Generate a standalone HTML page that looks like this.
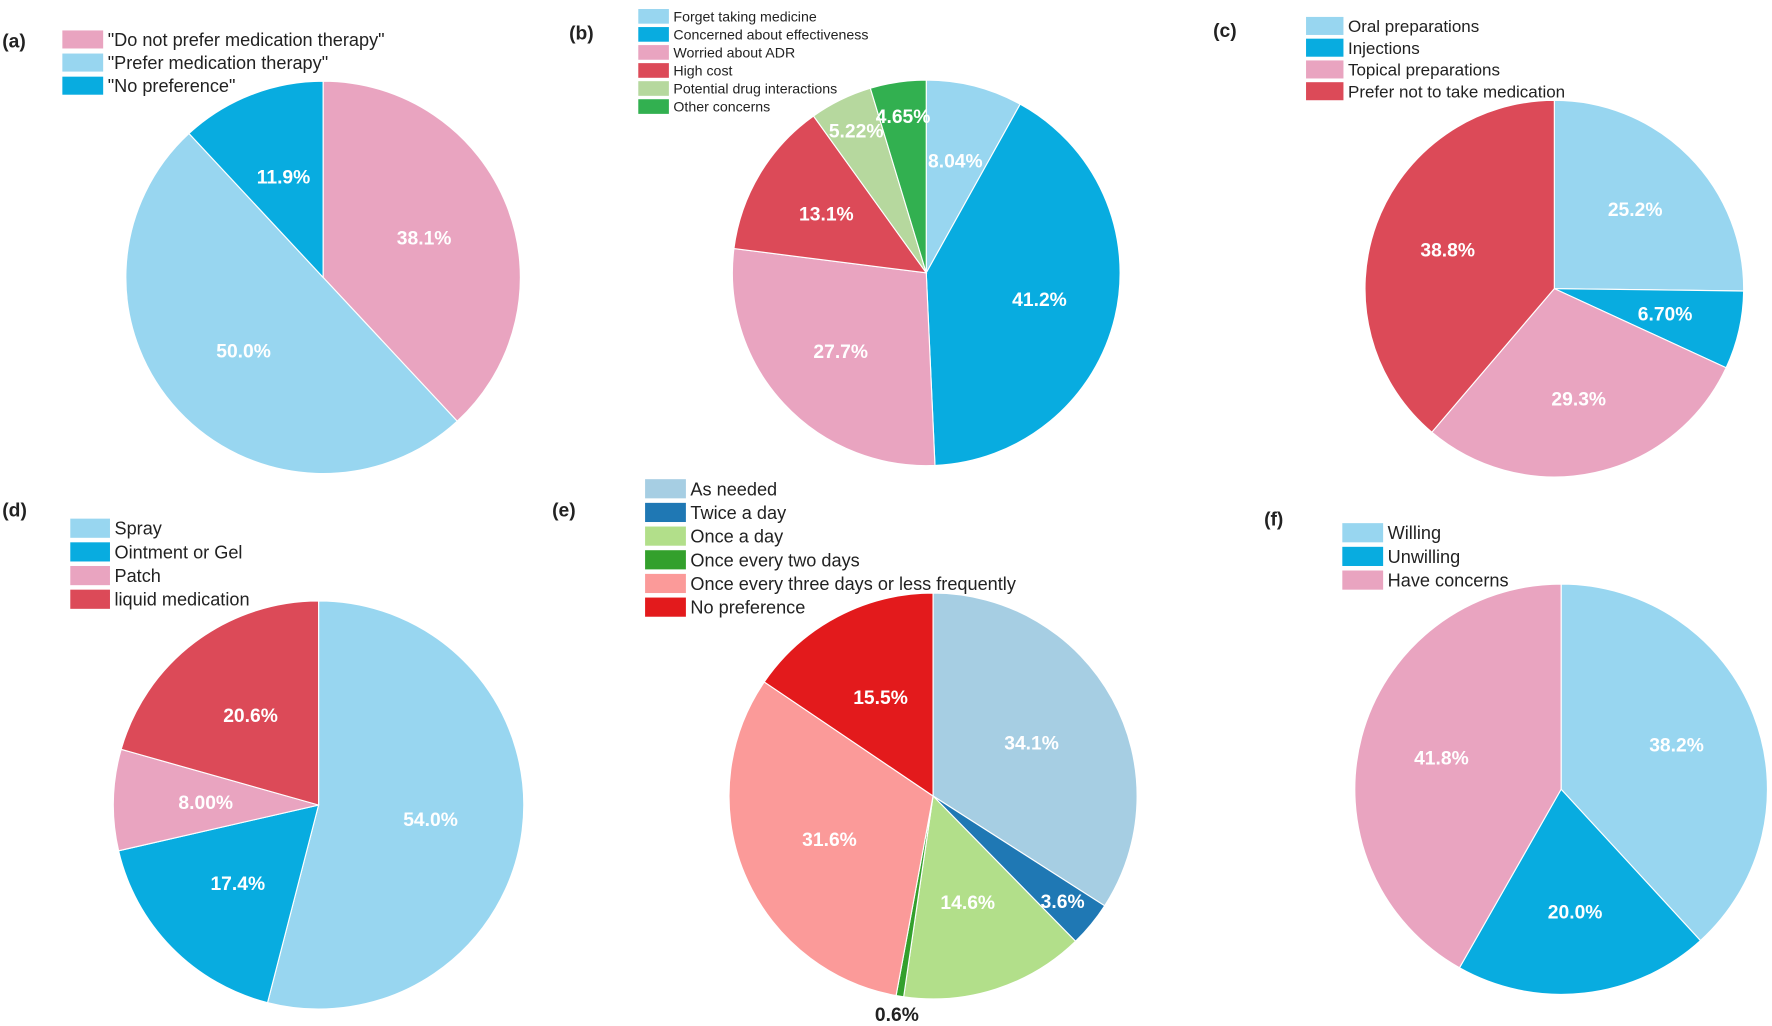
<!DOCTYPE html>
<html><head><meta charset="utf-8"><style>
html,body{margin:0;padding:0;background:#fff;width:1772px;height:1026px;overflow:hidden}
svg{display:block}
text{font-family:"Liberation Sans",sans-serif}
</style></head><body>
<svg id="fig" width="1772" height="1026" viewBox="0 0 1563 910" preserveAspectRatio="none" xmlns="http://www.w3.org/2000/svg"></svg>
<script>
// ---- data (one small set of arrays per panel) ----
const aLabels = ['"Do not prefer medication therapy"','"Prefer medication therapy"','"No preference"'];
const aValues = [38.1, 50.0, 11.9];
const aText = ['38.1%','50.0%','11.9%'];

const bLabels = ['Forget taking medicine','Concerned about effectiveness','Worried about ADR','High cost','Potential drug interactions','Other concerns'];
const bValues = [8.04, 41.2, 27.7, 13.1, 5.22, 4.65];
const bText = ['8.04%','41.2%','27.7%','13.1%','5.22%','4.65%'];

const cLabels = ['Oral preparations','Injections','Topical preparations','Prefer not to take medication'];
const cValues = [25.2, 6.70, 29.3, 38.8];
const cText = ['25.2%','6.70%','29.3%','38.8%'];

const dLabels = ['Spray','Ointment or Gel','Patch','liquid medication'];
const dValues = [54.0, 17.4, 8.00, 20.6];
const dText = ['54.0%','17.4%','8.00%','20.6%'];

const eLabels = ['As needed','Twice a day','Once a day','Once every two days','Once every three days or less frequently','No preference'];
const eValues = [34.1, 3.6, 14.6, 0.6, 31.6, 15.5];
const eText = ['34.1%','3.6%','14.6%','0.6%','31.6%','15.5%'];

const fLabels = ['Willing','Unwilling','Have concerns'];
const fValues = [38.2, 20.0, 41.8];
const fText = ['38.2%','20.0%','41.8%'];

const NS='http://www.w3.org/2000/svg';
const svg=document.getElementById('fig');
function mk(tag,attrs,parent){const e=document.createElementNS(NS,tag);for(const k in attrs)e.setAttribute(k,attrs[k]);(parent||svg).appendChild(e);return e;}

function drawPanel(cfg){
  const g=mk('g',{});
  
  
  const t=mk('text',{x:cfg.tag[0],y:cfg.tag[1],'font-size':17,'font-weight':'bold',fill:'#222'},g);
  t.textContent='('+cfg.id+')';
  
  
  // legend
  const lg=cfg.leg;
  cfg.labels.forEach((lab,i)=>{
    const y=lg.y+i*lg.step;
    const r=mk('rect',{x:lg.x,y:y,width:lg.w,height:lg.h,fill:cfg.colors[i]},g);
    
    
    const tx=mk('text',{x:lg.x+lg.w+4,y:y+lg.h/2+lg.fs*0.36,'font-size':lg.fs,fill:'#222'},g);
    tx.textContent=lab;
    
    
  });
  // slices
  const total=cfg.values.reduce((a,b)=>a+b,0);
  let acc=0;
  cfg.values.forEach((v,i)=>{
    const a0=acc/total*2*Math.PI; acc+=v; const a1=acc/total*2*Math.PI;
    const cx=cfg.cx,cy=cfg.cy,R=cfg.r;
    const x0=cx+R*Math.sin(a0),y0=cy-R*Math.cos(a0),x1=cx+R*Math.sin(a1),y1=cy-R*Math.cos(a1);
    const large=(a1-a0)>Math.PI?1:0;
    const p=mk('path',{d:`M${cx},${cy}L${x0},${y0}A${R},${R} 0 ${large} 1 ${x1},${y1}Z`,fill:cfg.colors[i],stroke:'#fff','stroke-width':1},g);
    
    
    const am=(a0+a1)/2;
    const pct=v/total*100;
    let f=cfg.lf, col='#fff', fs=17;
    if(pct<1){f=1.09;col='#222';}
    else if(pct<6){f=0.82;}
    const lx=cx+f*R*Math.sin(am), ly=cy-f*R*Math.cos(am);
    const lt=mk('text',{x:lx,y:ly+6,'font-size':fs,'font-weight':'bold',fill:col,'text-anchor':'middle'},g);
    lt.textContent=cfg.text[i];
    
    
  });
}

const LB='#98d6f0', BL='#08ace0', PK='#e9a4c0', RD='#dc4a58';
drawPanel({id:'a',cx:285,cy:246,r:174,lf:0.55,tag:[2,42],labels:aLabels,values:aValues,text:aText,colors:[PK,LB,BL],
  leg:{x:55,y:27,step:20.5,w:36,h:16,fs:16}});
drawPanel({id:'b',cx:817,cy:242,r:171,lf:0.6,tag:[502,35],labels:bLabels,values:bValues,text:bText,colors:[LB,BL,PK,RD,'#b6d89e','#32b050'],
  leg:{x:563,y:8,step:16,w:27,h:13,fs:12.5}});
drawPanel({id:'c',cx:1371,cy:256,r:167,lf:0.6,tag:[1070,33],labels:cLabels,values:cValues,text:cText,colors:[LB,BL,PK,RD],
  leg:{x:1152,y:15,step:19.3,w:33,h:16,fs:15}});
drawPanel({id:'d',cx:281,cy:714,r:181,lf:0.55,tag:[2,458],labels:dLabels,values:dValues,text:dText,colors:[LB,BL,PK,RD],
  leg:{x:62,y:460,step:21,w:35,h:17,fs:16}});
drawPanel({id:'e',cx:823,cy:706,r:180,lf:0.55,tag:[487,458],labels:eLabels,values:eValues,text:eText,colors:['#a6cee3','#1f78b4','#b2df8a','#33a02c','#fb9a99','#e31a1c'],
  leg:{x:569,y:425,step:21,w:36,h:17,fs:16}});
drawPanel({id:'f',cx:1377,cy:700,r:182,lf:0.6,tag:[1115,466],labels:fLabels,values:fValues,text:fText,colors:[LB,BL,PK],
  leg:{x:1184,y:464,step:21,w:36,h:17,fs:16}});
</script>
</body></html>
